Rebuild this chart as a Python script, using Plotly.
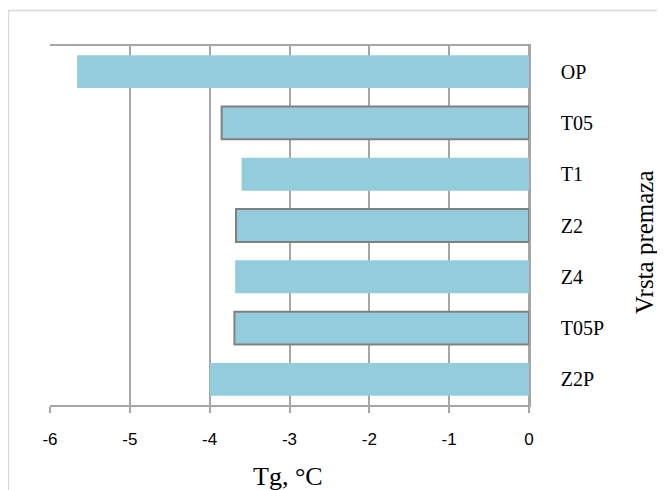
import plotly.graph_objects as go

categories = ["OP", "T05", "T1", "Z2", "Z4", "T05P", "Z2P"]
tg_values = [-5.66, -3.85, -3.60, -3.67, -3.68, -3.69, -4.00]
outlined = [0, 1, 0, 1, 0, 1, 0]
x_ticks = [-6, -5, -4, -3, -2, -1, 0]

W, H = 665, 490
OFF = 8  # page body margin
L, R, T, B = 50 - OFF, 529 - OFF, 46 - OFF, 405 - OFF

def px_x(p):
    return (p - OFF - L) / (R - L)

def px_y(p):
    return (B - (p - OFF)) / (B - T)

bar_color = "#93CDDD"
grid_color = "#a6a6a6"

fig = go.Figure()
fig.add_trace(go.Bar(
    x=tg_values,
    y=categories,
    orientation="h",
    width=0.64,
    marker=dict(
        color=bar_color,
        line=dict(color=["#808080" if o else bar_color for o in outlined],
                  width=[2 if o else 0 for o in outlined]),
    ),
    showlegend=False,
))

fig.update_layout(
    width=W, height=H,
    margin=dict(l=L, r=W - R, t=T, b=H - B, autoexpand=False),
    paper_bgcolor="white",
    plot_bgcolor="white",
    bargap=0.36,
    xaxis=dict(
        range=[-6, 0],
        tickvals=x_ticks,
        ticktext=[str(v) for v in x_ticks],
        showgrid=True, gridcolor=grid_color, gridwidth=1.5,
        zeroline=True, zerolinecolor=grid_color, zerolinewidth=1.5,
        showline=True, linecolor=grid_color, linewidth=1.5, mirror=True,
        ticks="outside", ticklen=6, tickcolor=grid_color, tickwidth=1.5,
        ticklabelstandoff=12,
        tickfont=dict(family="Liberation Sans", size=17, color="black"),
        fixedrange=True,
    ),
    yaxis=dict(
        categoryorder="array",
        categoryarray=categories,
        autorange="reversed",
        side="right",
        showgrid=False,
        showline=True, linecolor=grid_color, linewidth=1.5,
        ticks="",
        ticklabelstandoff=26,
        tickfont=dict(family="Liberation Serif", size=20, color="black"),
        fixedrange=True,
    ),
    shapes=[dict(
        type="rect", xref="paper", yref="paper",
        x0=px_x(8.5), y0=px_y(540), x1=px_x(740), y1=px_y(10.5),
        line=dict(color="#d9d9d9", width=1.5), fillcolor="rgba(0,0,0,0)",
        layer="below",
    )],
    annotations=[
        dict(text="Tg, °C", xref="paper", yref="paper",
             x=px_x(288), y=px_y(476), xanchor="center", yanchor="middle",
             showarrow=False,
             font=dict(family="Liberation Serif", size=26, color="black")),
        dict(text="Vrsta premaza", xref="paper", yref="paper",
             x=px_x(644), y=px_y(242), xanchor="center", yanchor="middle",
             textangle=-90, showarrow=False,
             font=dict(family="Liberation Serif", size=25, color="black")),
    ],
)

fig.write_html("out.html")
